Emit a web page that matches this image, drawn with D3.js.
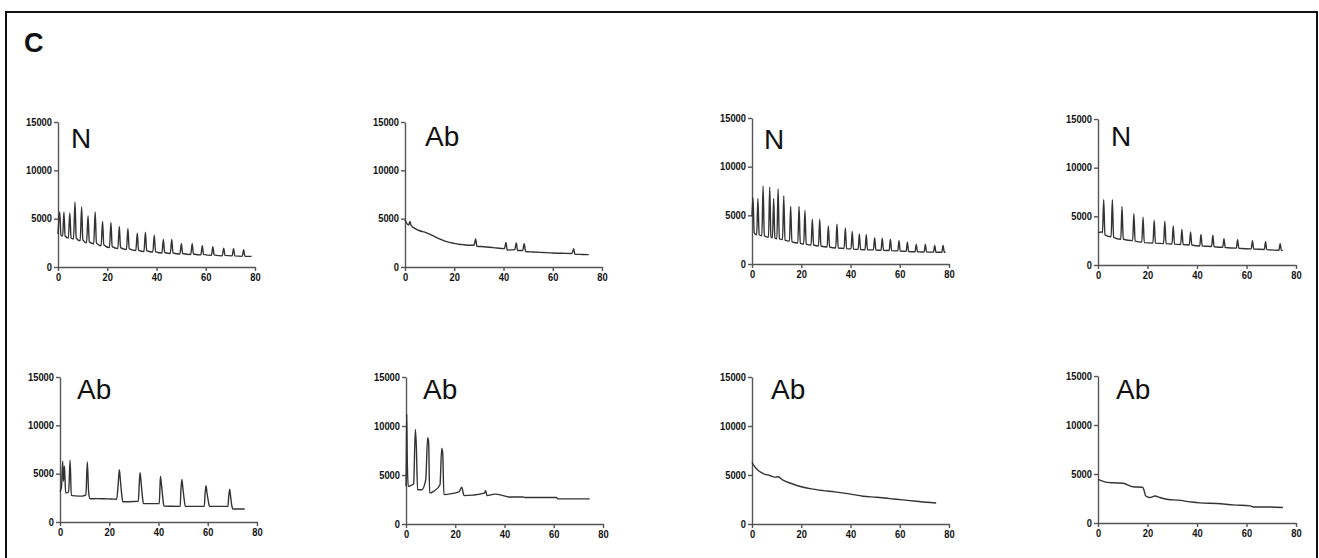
<!DOCTYPE html>
<html>
<head>
<meta charset="utf-8">
<script src="https://cdn.jsdelivr.net/npm/d3@7"></script>
<style>
  body { margin: 0; background: #fff; }
  svg { display: block; }
  .tick text { font-family: "Liberation Sans", Arial, sans-serif; font-weight: bold; font-size: 10px; fill: #111; }
  .domain, .tick line { stroke: #555; stroke-width: 1.4; }
  .plabel { font-family: "Liberation Sans", Arial, sans-serif; font-size: 28px; fill: #111; }
</style>
</head>
<body>
<svg id="chart" width="1319" height="558"></svg>
<script>
// axis ticks
var xTicks = [0, 20, 40, 60, 80];
var yTicks = [0, 5000, 10000, 15000];
var panelLabels = ["N", "Ab", "N", "N", "Ab", "Ab", "Ab", "Ab"];

// traces, [time, signal]
var traceN1 = [[0,3400],[0.7,5700],[1.2,3300],[1.9,3200],[2.4,5700],[2.9,3200],[4.2,3000],[4.8,5600],[5.3,3000],[6.3,2900],[6.9,6700],[7.4,3000],[9.0,2700],[9.6,6200],[10.1,2800],[11.6,2500],[12.2,5300],[12.7,2600],[14.5,2400],[15.1,5700],[15.6,2500],[17.5,2200],[18.1,4700],[18.6,2300],[20.9,2000],[21.5,4600],[22.0,2100],[24.3,1900],[24.9,4200],[25.4,2000],[27.8,1800],[28.4,4000],[28.9,1900],[31.6,1700],[32.2,3500],[32.7,1750],[34.9,1600],[35.5,3600],[36.0,1700],[38.5,1550],[39.1,3300],[39.6,1600],[42.2,1450],[42.8,2850],[43.3,1500],[45.6,1400],[46.2,2850],[46.7,1450],[49.5,1350],[50.1,2400],[50.6,1400],[53.9,1300],[54.5,2400],[55.0,1350],[58.0,1250],[58.6,2200],[59.1,1300],[62.3,1200],[62.9,2100],[63.4,1250],[66.7,1150],[67.3,1950],[67.8,1200],[70.7,1150],[71.3,1900],[71.8,1150],[74.8,1100],[75.4,1800],[75.9,1100],[78.6,1100]];

var traceAb1 = [[0,4900],[0.5,4600],[1.5,4350],[2.0,4700],[2.5,4300],[4,4000],[6,3750],[8,3600],[10,3400],[12,3150],[14,2900],[16,2700],[18,2550],[20,2450],[22,2350],[24,2300],[26,2250],[28,2250],[28.7,2900],[29.2,2150],[32,2100],[36,2000],[40.4,1900],[41.0,2550],[41.5,1750],[44.6,1800],[45.2,2500],[45.7,1700],[47.8,1700],[48.4,2400],[49,1600],[52,1550],[56,1500],[60,1450],[64,1420],[67.8,1400],[68.5,1900],[69,1320],[72,1300],[74.6,1280]];

var traceN2 = [[0,4900],[0.4,6800],[0.9,3200],[1.9,3000],[2.4,6700],[2.9,3000],[4.0,2900],[4.5,8000],[5.0,2900],[6.7,2750],[7.2,7900],[7.7,2800],[8.3,2700],[8.8,6700],[9.3,2650],[10.1,2600],[10.6,7700],[11.1,2600],[12.4,2500],[12.9,7000],[13.4,2450],[15.2,2350],[15.7,5900],[16.2,2300],[18.6,2150],[19.1,5900],[19.6,2150],[21.0,2050],[21.5,5500],[22.0,2050],[24.0,1950],[24.5,4600],[25.0,1950],[27.0,1850],[27.5,4600],[28.0,1850],[30.5,1750],[31.0,3900],[31.5,1750],[34.0,1650],[34.5,4100],[35.0,1650],[37.4,1600],[37.9,3700],[38.4,1580],[40.2,1550],[40.7,3350],[41.2,1530],[43.1,1500],[43.6,3100],[44.1,1480],[45.9,1470],[46.4,3000],[46.9,1460],[49.3,1450],[49.8,2700],[50.3,1440],[52.4,1420],[52.9,2650],[53.4,1400],[55.7,1380],[56.2,2550],[56.7,1370],[59.2,1350],[59.7,2400],[60.2,1330],[62.6,1300],[63.1,2250],[63.6,1280],[66.2,1260],[66.7,2000],[67.2,1250],[69.9,1240],[70.4,2000],[70.9,1230],[73.7,1220],[74.2,1900],[74.7,1200],[77.1,1200],[77.6,1900],[78.1,1200],[78.6,1200]];

var traceN3 = [[0,3300],[1.5,3400],[1.8,3300],[2.3,6700],[2.8,3100],[5.3,2900],[5.8,6700],[6.3,2850],[9.2,2650],[9.7,6000],[10.2,2650],[14.0,2500],[14.5,5300],[15.0,2450],[17.7,2350],[18.2,4900],[18.7,2300],[22.2,2250],[22.7,4600],[23.2,2250],[26.5,2200],[27.0,4500],[27.5,2200],[29.9,2150],[30.4,4000],[30.9,2150],[33.4,2100],[33.9,3650],[34.4,2100],[36.9,2050],[37.4,3400],[37.9,2050],[41.1,1950],[41.6,3150],[42.1,1950],[45.9,1900],[46.4,3050],[46.9,1880],[50.4,1820],[50.9,2700],[51.4,1800],[55.9,1730],[56.4,2600],[56.9,1720],[61.9,1660],[62.4,2500],[62.9,1650],[67.2,1600],[67.7,2400],[68.2,1580],[73.1,1520],[73.6,2200],[74.1,1500],[74.7,1500]];

var traceAb2 = [[0,3150],[0.6,3600],[1.1,6300],[1.4,4200],[1.8,5800],[2.3,3000],[3.5,3100],[4.1,6400],[4.6,2750],[6,2700],[9,2680],[10.5,2800],[11.1,6200],[11.6,3200],[12.1,2400],[15,2420],[18,2400],[21,2380],[23.0,2350],[23.6,3800],[24.1,5400],[24.5,4400],[25.0,3000],[25.5,2100],[28,2100],[31.8,2150],[32.2,4000],[32.5,5100],[32.9,4200],[33.4,2800],[33.9,1900],[37,1900],[40.3,1900],[40.6,3600],[40.8,4700],[41.2,3900],[41.7,2600],[42.2,1650],[45,1630],[48.8,1620],[49.1,3300],[49.5,4400],[49.9,3500],[50.4,2400],[50.9,1620],[54,1620],[58.6,1620],[58.9,2900],[59.3,3750],[59.7,3000],[60.2,2200],[60.7,1620],[64,1620],[68.2,1620],[68.5,2600],[68.9,3400],[69.3,2600],[69.7,1800],[70.2,1350],[72,1340],[75,1340]];

var traceAb3 = [[0,3850],[0.15,6800],[0.3,11200],[0.5,6800],[0.9,3850],[2.6,4000],[3.1,4100],[3.8,9650],[4.2,7950],[4.7,3500],[6.4,3500],[8.0,4500],[8.8,8800],[9.2,8300],[9.6,3150],[11.4,3350],[13.8,4000],[14.5,7700],[14.9,7300],[15.4,3000],[18.5,3100],[21.6,3300],[22.6,3750],[23.6,2900],[27,2950],[31.8,3150],[32.3,3400],[32.9,2900],[36,3050],[39.5,2900],[41.5,2760],[47.6,2760],[48.2,2700],[55,2700],[61.1,2700],[61.7,2560],[66,2560],[70.5,2560],[74.6,2560]];

var traceAb4 = [[0,6300],[1.1,5850],[2.8,5400],[4.5,5150],[7.2,4950],[9.2,4780],[10.6,4820],[12.6,4470],[16,4130],[20,3800],[24.1,3580],[28.8,3410],[33.6,3280],[39.6,3070],[45.1,2830],[50.5,2730],[55.9,2590],[61.3,2460],[66.7,2320],[70.8,2220],[74.8,2150]];

var traceAb5 = [[0,4450],[2.7,4200],[6.1,4100],[10.1,4050],[14.2,3700],[18,3650],[18.6,3350],[19.3,2750],[20.9,2600],[23,2750],[25,2600],[28.4,2400],[32.4,2330],[37.2,2160],[41.2,2050],[48,1990],[54.7,1850],[61.5,1750],[62.8,1640],[69.6,1640],[74.7,1580]];

var traces = [traceN1, traceAb1, traceN2, traceN3, traceAb2, traceAb3, traceAb4, traceAb5];

// where each small plot sits
var layout = [
    { x0: 58,   x1: 255,  top: 122, bottom: 267, lx: 71,   ly: 148 },
    { x0: 405,  x1: 602,  top: 122, bottom: 267, lx: 425,  ly: 146 },
    { x0: 752,  x1: 949,  top: 118, bottom: 264, lx: 764,  ly: 149 },
    { x0: 1098, x1: 1296, top: 119, bottom: 265, lx: 1111, ly: 146 },
    { x0: 60,   x1: 257,  top: 377, bottom: 522, lx: 77,   ly: 399 },
    { x0: 406,  x1: 603,  top: 377, bottom: 524, lx: 423,  ly: 399 },
    { x0: 752,  x1: 949,  top: 377, bottom: 524, lx: 771,  ly: 399 },
    { x0: 1098, x1: 1296, top: 376, bottom: 523, lx: 1116, ly: 399 }
];

var svg = d3.select("#chart");

// frame
svg.append("rect")
    .attr("x", 6)
    .attr("y", 12)
    .attr("width", 1311)
    .attr("height", 560)
    .attr("fill", "none")
    .attr("stroke", "#111")
    .attr("stroke-width", 2);

svg.append("text")
    .attr("x", 24)
    .attr("y", 52)
    .attr("font-family", "Liberation Sans, Arial, sans-serif")
    .attr("font-size", 27)
    .attr("font-weight", "bold")
    .attr("fill", "#111")
    .text("C");

// squeeze the bold digits, the original uses a narrow face
function narrow(sel) {
    sel.selectAll(".tick text")
        .attr("textLength", function() { return this.textContent.length * 5.2; })
        .attr("lengthAdjust", "spacingAndGlyphs");
}

layout.forEach(function(p, i) {
    var x = d3.scaleLinear().domain([0, 80]).range([p.x0, p.x1]);
    var y = d3.scaleLinear().domain([0, 15000]).range([p.bottom, p.top]);

    var g = svg.append("g");

    g.append("g")
        .attr("transform", `translate(0,${p.bottom})`)
        .call(d3.axisBottom(x).tickValues(xTicks).tickFormat(d3.format("d"))
            .tickSize(4).tickSizeOuter(0).tickPadding(3))
        .call(narrow);

    g.append("g")
        .attr("transform", `translate(${p.x0},0)`)
        .call(d3.axisLeft(y).tickValues(yTicks).tickFormat(d3.format("d"))
            .tickSize(4).tickSizeOuter(0).tickPadding(2))
        .call(narrow);

    g.append("path")
        .datum(traces[i])
        .attr("fill", "none")
        .attr("stroke", "#333")
        .attr("stroke-width", 1.4)
        .attr("stroke-linejoin", "round")
        .attr("d", d3.line().curve(d3.curveMonotoneX).x(d => x(d[0])).y(d => y(d[1])));

    g.append("text")
        .attr("class", "plabel")
        .attr("x", p.lx)
        .attr("y", p.ly)
        .text(panelLabels[i]);
});
</script>
</body>
</html>
